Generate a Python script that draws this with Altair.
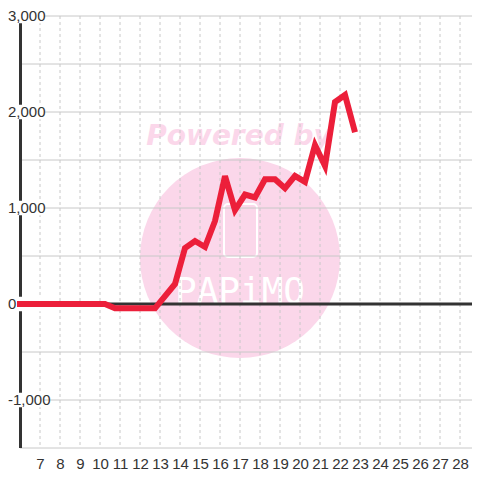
import altair as alt
import pandas as pd

# ---- data ----
x_vals = [5.85, 6.25, 6.75, 7.25, 7.75, 8.25, 8.75, 9.25, 9.75, 10.25,
          10.75, 11.25, 11.75, 12.25, 12.75,
          13.25, 13.75, 14.25, 14.75, 15.25, 15.75, 16.25, 16.75, 17.25, 17.75,
          18.25, 18.75, 19.25, 19.75, 20.25, 20.75, 21.25, 21.75, 22.25, 22.75]
y_vals = [0, 0, 0, 0, 0, 0, 0, 0, 0, 0,
          -45, -45, -45, -45, -45,
          83, 208, 583, 656, 594, 865, 1333, 979, 1140, 1110,
          1300, 1300, 1206, 1335, 1272, 1656, 1438, 2104, 2177, 1790]
x_ticks = list(range(7, 29))
y_label_vals = [3000, 2000, 1000, 0, -1000]
y_label_text = ["3,000", "2,000", "1,000", "0", "-1,000"]
y_grid_vals = [-1500, -1000, -500, 500, 1000, 1500, 2000, 2500, 3000]

line_df = pd.DataFrame({"x": x_vals, "y": y_vals})
lab_df = pd.DataFrame({"v": y_label_vals, "t": y_label_text})
hgrid_df = pd.DataFrame({"v": y_grid_vals})
vgrid_df = pd.DataFrame({"x": x_ticks})
one = pd.DataFrame({"a": [0]})

xs = alt.Scale(domain=[6, 28.6], nice=False, zero=False)
ys = alt.Scale(domain=[-1500, 3000], nice=False, zero=False)
x_axis = alt.Axis(values=x_ticks, domain=False, ticks=False, grid=False,
                  labelPadding=8, labelFontSize=15, labelColor="#333333",
                  labelFont="Liberation Sans", title=None, labelFlush=False)

BG = "#ffffff"
PINK = "#fbd7ea"

circle = alt.Chart(one).mark_circle(size=40000, color=PINK, opacity=1).encode(
    x=alt.value(220), y=alt.value(242))
powered = alt.Chart(one).mark_text(
    text="Powered by", font="DejaVu Sans", fontWeight="bold", fontStyle="italic",
    fontSize=28, color=PINK, align="center", baseline="alphabetic").encode(
    x=alt.value(219), y=alt.value(129))
phone = alt.Chart(one).mark_rect(filled=False, stroke="white", strokeWidth=2,
                                  cornerRadius=4).encode(
    x=alt.value(204), x2=alt.value(237), y=alt.value(188), y2=alt.value(241))
papimo = alt.Chart(one).mark_text(
    text="PAPiMO", font="DejaVu Sans Mono", fontSize=36, color="white",
    align="center", baseline="alphabetic").encode(
    x=alt.value(220), y=alt.value(287))

hgrid = alt.Chart(hgrid_df).mark_rule(color="#c8c8c8", strokeWidth=1).encode(
    y=alt.Y("v:Q", scale=ys, axis=None))
vgrid = alt.Chart(vgrid_df).mark_rule(color="#c8c8c8", strokeWidth=1,
                                       strokeDash=[3, 3]).encode(
    x=alt.X("x:Q", scale=xs, axis=x_axis))
zero_line = alt.Chart(one).mark_rule(color="#333333", strokeWidth=3).encode(
    y=alt.datum(0, scale=ys, axis=None))
y_line = alt.Chart(one).mark_rule(color="#333333", strokeWidth=3).encode(
    x=alt.value(0.5), y=alt.value(0), y2=alt.value(432))

lab_bg = alt.Chart(lab_df).transform_calculate(
    lo="datum.v - 75", hi="datum.v + 75").mark_rect(color=BG).encode(
    x=alt.value(-12), x2=alt.value(24),
    y=alt.Y("lo:Q", scale=ys, axis=None), y2="hi:Q")
labels = alt.Chart(lab_df).mark_text(
    align="left", baseline="middle", fontSize=15, font="Liberation Sans",
    color="#333333").encode(
    x=alt.value(-12), y=alt.Y("v:Q", scale=ys, axis=None), text="t:N")

line = alt.Chart(line_df).mark_line(color="#ec1f3a", strokeWidth=6,
                                     strokeJoin="miter", strokeCap="butt").encode(
    x=alt.X("x:Q", scale=xs, axis=x_axis),
    y=alt.Y("y:Q", scale=ys, axis=None))

chart = alt.layer(
    circle, powered, phone, papimo, hgrid, vgrid, zero_line, y_line,
    lab_bg, labels, line
).properties(
    width=452, height=432,
    autosize=alt.AutoSizeParams(type="none"),
    padding={"left": 12, "top": 8, "right": 0, "bottom": 24},
    background=BG,
).configure_view(stroke=None)

chart.save("out.html", embed_options={"renderer": "svg", "actions": False})
